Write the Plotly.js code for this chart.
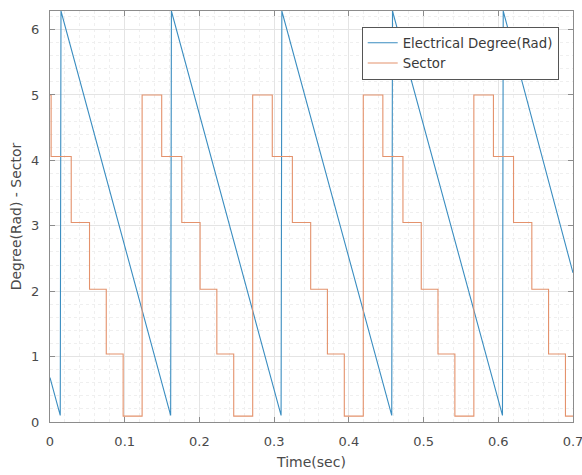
<!DOCTYPE html>
<html>
<head>
<meta charset="utf-8">
<script src="https://cdn.plot.ly/plotly-3.0.1.min.js"></script>
<style>html,body{margin:0;padding:0;background:#fff;}#chart{width:582px;height:475px;}</style>
</head>
<body>
<div id="chart"></div>
<script>
// Electrical degree (rad): sawtooth vertices
const degTime = [0, 0.0137, 0.0147, 0.1615, 0.1625, 0.3093, 0.3103, 0.4574, 0.4584, 0.6056, 0.6066, 0.7];
const degRad  = [0.68, 0.10, 6.2832, 0.10, 6.2832, 0.10, 6.2832, 0.10, 6.2832, 0.10, 6.2832, 2.28];

// Sector: step transition times and levels
const sectorTime = [0, 0.0015, 0.0284, 0.0529, 0.0753, 0.0979, 0.1233,
  0.1495, 0.1764, 0.2009, 0.2233, 0.2459, 0.2713,
  0.2975, 0.3244, 0.3489, 0.3713, 0.3939, 0.4193,
  0.4455, 0.4724, 0.4969, 0.5193, 0.5419, 0.5673,
  0.5935, 0.6204, 0.6449, 0.6673, 0.6899, 0.7];
const sectorValue = [5.0, 4.06, 3.05, 2.03, 1.04, 0.09, 5.0,
  4.06, 3.05, 2.03, 1.04, 0.09, 5.0,
  4.06, 3.05, 2.03, 1.04, 0.09, 5.0,
  4.06, 3.05, 2.03, 1.04, 0.09, 5.0,
  4.06, 3.05, 2.03, 1.04, 0.09, 0.09];

const xTicks = [0, 0.1, 0.2, 0.3, 0.4, 0.5, 0.6, 0.7];
const xTickLabels = ['0', '0.1', '0.2', '0.3', '0.4', '0.5', '0.6', '0.7'];
const yTicks = [0, 1, 2, 3, 4, 5, 6];
const yTickLabels = ['0', '1', '2', '3', '4', '5', '6'];

const FONT = 'DejaVu Sans, Liberation Sans, Arial, sans-serif';

const traces = [
  {x: degTime, y: degRad, type: 'scatter', mode: 'lines', name: 'Electrical Degree(Rad)',
   line: {color: '#3a8dc0', width: 1.1}},
  {x: sectorTime, y: sectorValue, type: 'scatter', mode: 'lines', name: 'Sector',
   line: {color: '#e4926c', width: 1.1, shape: 'hv'}}
];

const axisCommon = {
  showline: true, linecolor: '#8c8c8c', linewidth: 1, mirror: 'ticks',
  ticks: 'inside', ticklen: 5, tickcolor: '#8c8c8c', tickwidth: 1,
  showgrid: true, gridcolor: '#e4e4e4', gridwidth: 1, zeroline: false,
  tickfont: {family: FONT, size: 13, color: '#4a4a4a'}
};

const layout = {
  width: 582, height: 475,
  margin: {l: 50, r: 9, t: 11, b: 53},
  paper_bgcolor: '#ffffff', plot_bgcolor: '#ffffff',
  showlegend: true,
  xaxis: Object.assign({}, axisCommon, {
    range: [0, 0.7], tickvals: xTicks, ticktext: xTickLabels,
    ticklabelstandoff: 7, ticklabeloverflow: 'allow',
    minor: {dtick: 0.02, showgrid: true, gridcolor: '#efefef', griddash: 'dot', gridwidth: 1, ticks: ''},
    title: {text: 'Time(sec)', standoff: 9,
      font: {family: FONT, size: 14, color: '#4a4a4a'}}
  }),
  yaxis: Object.assign({}, axisCommon, {
    range: [0, 6.2832], tickvals: yTicks, ticktext: yTickLabels,
    ticklabelstandoff: 7,
    minor: {dtick: 0.2, showgrid: true, gridcolor: '#efefef', griddash: 'dot', gridwidth: 1, ticks: ''},
    title: {text: 'Degree(Rad) - Sector', standoff: 6,
      font: {family: FONT, size: 14, color: '#4a4a4a'}}
  }),
  legend: {
    x: 0.596, y: 0.962, xanchor: 'left', yanchor: 'top',
    bgcolor: '#ffffff', bordercolor: '#555555', borderwidth: 1,
    font: {family: FONT, size: 13.3, color: '#3a3a3a'},
    itemwidth: 30, tracegroupgap: 0
  }
};

Plotly.newPlot('chart', traces, layout, {displayModeBar: false, staticPlot: true});
</script>
</body>
</html>
